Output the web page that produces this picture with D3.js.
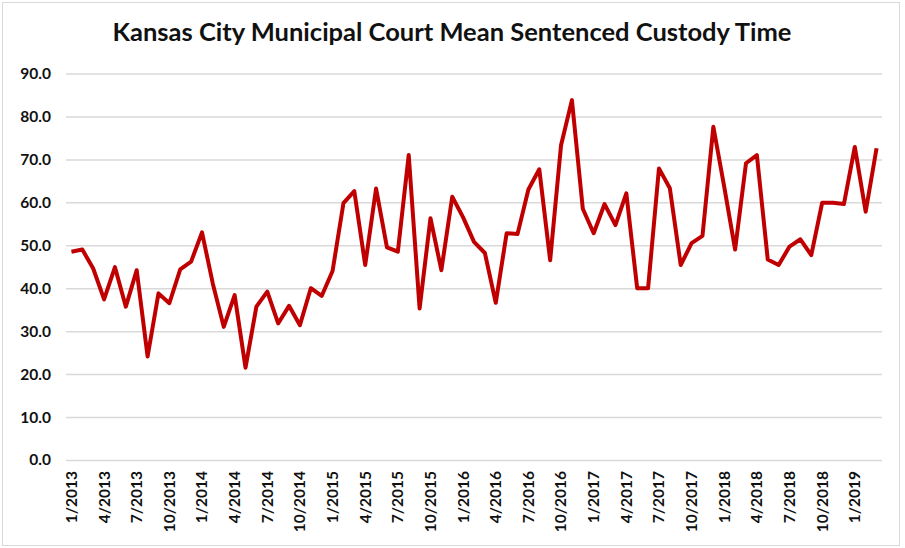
<!DOCTYPE html>
<html>
<head>
<meta charset="utf-8">
<script src="https://cdn.jsdelivr.net/npm/d3@7"></script>
<style>
  body { margin: 0; background: #fff; }
  svg { display: block; font-family: Lato, "Open Sans", sans-serif; }
</style>
</head>
<body>
<svg width="905" height="548"></svg>
<script>
// months 1/2013 .. 3/2019
const months = [];
for (let y = 2013; y <= 2019; y++) {
    for (let m = 1; m <= 12; m++) {
        if (y === 2019 && m > 3) break;
        months.push(m + "/" + y);
    }
}

const custody = [
    48.5, 49.0, 44.6, 37.4, 44.9, 35.7, 44.2, 24.1, 38.8, 36.5, 44.4, 46.2,
    53.0, 41.0, 31.0, 38.4, 21.5, 35.7, 39.2, 31.8, 35.9, 31.4, 40.0, 38.2,
    44.0, 59.8, 62.6, 45.4, 63.2, 49.5, 48.5, 71.0, 35.3, 56.3, 44.2, 61.3,
    56.5, 50.8, 48.2, 36.6, 52.8, 52.6, 63.0, 67.7, 46.5, 73.3, 83.8, 58.5,
    52.8, 59.6, 54.7, 62.1, 40.0, 40.0, 67.9, 63.3, 45.4, 50.5, 52.2, 77.6,
    63.6, 49.0, 69.1, 71.0, 46.7, 45.4, 49.7, 51.4, 47.7, 59.9, 59.9, 59.6,
    72.9, 57.8, 72.6
];

const yTicks = [0, 10, 20, 30, 40, 50, 60, 70, 80, 90];
const xTickLabels = months.filter((d, i) => i % 3 === 0);

const svg = d3.select("svg");

// outer frame
svg.append("rect")
    .attr("x", 2.5).attr("y", 2.5)
    .attr("width", 897).attr("height", 543)
    .attr("fill", "#fff")
    .attr("stroke", "#d9d9d9");

const x = d3.scaleBand()
    .domain(months)
    .range([66, 882])
    .padding(0);

const y = d3.scaleLinear()
    .domain([0, 90])
    .range([460, 73.5]);

// gridlines + y labels
const yAxis = d3.axisLeft(y)
    .tickValues(yTicks)
    .tickSize(-(882 - 66))
    .tickFormat(d3.format(".1f"))
    .tickPadding(15);

svg.append("g")
    .attr("class", "y axis")
    .attr("transform", "translate(66,0)")
    .call(yAxis)
    .call(g => g.select(".domain").remove())
    .call(g => g.selectAll(".tick line")
        .attr("stroke", "#d9d9d9")
        .attr("stroke-width", 1.5))
    .call(g => g.selectAll(".tick text")
        .attr("fill", "#111")
        .attr("font-size", 15.5)
        .attr("font-weight", 700)
        .attr("font-family", "Lato, sans-serif"));

// x axis labels
const xAxis = d3.axisBottom(x)
    .tickValues(xTickLabels)
    .tickSize(0)
    .tickPadding(0);

svg.append("g")
    .attr("class", "x axis")
    .attr("transform", "translate(0,460)")
    .call(xAxis)
    .call(g => g.select(".domain").remove())
    .call(g => g.selectAll(".tick text")
        .attr("transform", "rotate(-90)")
        .attr("text-anchor", "end")
        .attr("dy", "0.35em")
        .attr("x", -11)
        .attr("y", 0)
        .attr("fill", "#111")
        .attr("font-size", 15.5)
        .attr("font-weight", 700)
        .attr("font-family", "Lato, sans-serif"));

// line
const line = d3.line()
    .x((d, i) => x(months[i]) + x.bandwidth() / 2)
    .y(d => y(d));

svg.append("path")
    .datum(custody)
    .attr("fill", "none")
    .attr("stroke", "#c00000")
    .attr("stroke-width", 4)
    .attr("stroke-linejoin", "round")
    .attr("d", line);

// title
svg.append("text")
    .attr("x", 452)
    .attr("y", 41)
    .attr("text-anchor", "middle")
    .attr("font-size", 25.5)
    .attr("font-weight", 700)
    .attr("fill", "#111")
    .text("Kansas City Municipal Court Mean Sentenced Custody Time");
</script>
</body>
</html>
